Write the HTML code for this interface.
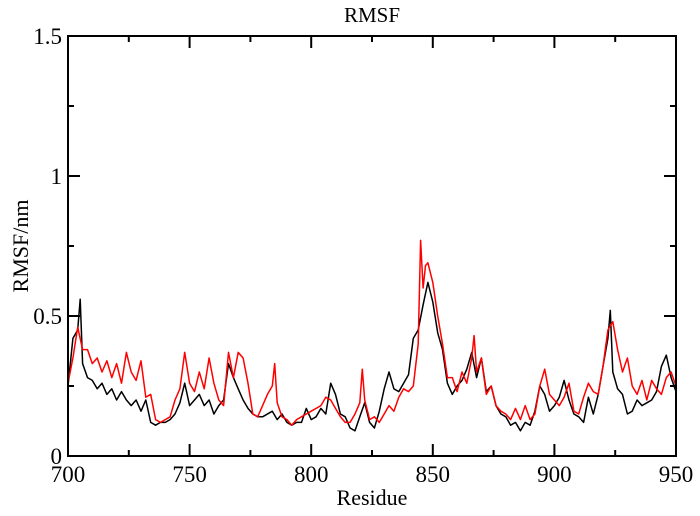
<!DOCTYPE html>
<html><head><meta charset="utf-8"><style>
html,body{margin:0;padding:0;background:#fff;}
svg{display:block;font-family:"Liberation Serif",serif;}
</style></head><body>
<svg id="chart" width="700" height="516" viewBox="0 0 700 516"></svg>
<script>
const blackRes=[700,702,704,705,706,708,710,712,714,716,718,720,722,724,726,728,730,732,734,736,738,740,742,744,746,748,750,752,754,756,758,760,762,764,766,768,770,772,774,776,778,780,784,786,788,790,792,794,796,798,800,802,804,806,808,810,812,814,816,818,820,822,824,826,828,830,832,834,836,838,840,842,844,846,848,850,852,854,856,858,860,862,864,866,868,870,872,874,876,878,880,882,884,886,888,890,892,894,896,898,900,902,904,906,908,910,912,914,916,918,920,922,923,924,926,928,930,932,934,936,938,940,942,944,946,948,950];
const blackVal=[0.25,0.42,0.45,0.56,0.33,0.28,0.27,0.24,0.26,0.22,0.24,0.20,0.23,0.20,0.18,0.20,0.16,0.20,0.12,0.11,0.12,0.12,0.13,0.15,0.19,0.26,0.18,0.20,0.22,0.18,0.20,0.15,0.18,0.20,0.33,0.28,0.24,0.20,0.17,0.15,0.14,0.14,0.16,0.13,0.15,0.12,0.11,0.12,0.12,0.17,0.13,0.14,0.17,0.15,0.26,0.22,0.15,0.14,0.10,0.09,0.14,0.19,0.12,0.10,0.16,0.24,0.30,0.24,0.23,0.26,0.29,0.42,0.45,0.54,0.62,0.55,0.44,0.38,0.26,0.22,0.25,0.27,0.31,0.37,0.28,0.35,0.23,0.25,0.18,0.15,0.14,0.11,0.12,0.09,0.12,0.11,0.16,0.25,0.22,0.16,0.18,0.21,0.27,0.20,0.15,0.14,0.12,0.21,0.15,0.22,0.32,0.42,0.52,0.30,0.24,0.22,0.15,0.16,0.20,0.18,0.19,0.20,0.23,0.32,0.36,0.28,0.23];
const redRes=[700,702,704,706,708,710,712,714,716,718,720,722,724,726,728,730,732,734,736,738,740,742,744,746,748,750,752,754,756,758,760,762,764,766,768,770,772,774,776,778,780,782,784,785,786,788,790,792,794,796,798,800,802,804,806,808,810,812,814,816,818,820,821,822,824,826,828,830,832,834,836,838,840,842,844,845,846,847,848,850,852,854,856,858,860,862,864,866,867,868,870,872,874,876,878,880,882,884,886,888,890,892,894,896,898,900,902,904,906,908,910,912,914,916,918,920,922,924,926,928,930,932,934,936,938,940,942,944,946,948,950];
const redVal=[0.26,0.35,0.46,0.38,0.38,0.33,0.35,0.30,0.34,0.28,0.33,0.26,0.37,0.30,0.27,0.34,0.21,0.22,0.13,0.12,0.13,0.14,0.20,0.24,0.37,0.26,0.23,0.30,0.24,0.35,0.26,0.20,0.18,0.37,0.28,0.37,0.35,0.26,0.15,0.14,0.18,0.22,0.25,0.33,0.19,0.14,0.13,0.11,0.13,0.14,0.15,0.16,0.17,0.18,0.21,0.20,0.17,0.14,0.12,0.12,0.15,0.19,0.31,0.20,0.13,0.14,0.12,0.15,0.18,0.16,0.21,0.24,0.23,0.25,0.40,0.77,0.60,0.68,0.69,0.62,0.50,0.40,0.28,0.28,0.23,0.30,0.26,0.35,0.43,0.30,0.35,0.22,0.25,0.18,0.16,0.15,0.13,0.17,0.13,0.18,0.13,0.15,0.25,0.31,0.22,0.20,0.18,0.21,0.26,0.16,0.15,0.21,0.26,0.23,0.22,0.32,0.45,0.48,0.38,0.30,0.35,0.25,0.22,0.27,0.20,0.27,0.24,0.22,0.28,0.30,0.25];
const xTicks=[700,750,800,850,900,950];
const xTickLabels=["700","750","800","850","900","950"];
const yTicks=[0,0.5,1,1.5];
const yTickLabels=["0","0.5","1","1.5"];

const X0=68,X1=676,Y0=456,Y1=36;
const xs=r=>X0+(r-700)/(950-700)*(X1-X0);
const ys=v=>Y0-(v/1.5)*(Y0-Y1);
const NS="http://www.w3.org/2000/svg";
const svg=document.getElementById('chart');
function mk(t,a){const e=document.createElementNS(NS,t);for(const k in a)e.setAttribute(k,a[k]);svg.appendChild(e);return e;}

function series(res,val,color,name){
  const p=mk('polyline',{points:res.map((r,i)=>xs(r).toFixed(1)+','+ys(val[i]).toFixed(1)).join(' '),fill:'none',stroke:color,'stroke-width':1.5,'stroke-linejoin':'round'});
  
  
}
series(blackRes,blackVal,'#000','series-black');
series(redRes,redVal,'#ff0000','series-red');

const frame=mk('rect',{x:X0,y:Y1,width:X1-X0,height:Y0-Y1,fill:'none',stroke:'#000','stroke-width':2});



xTicks.forEach((t,i)=>{
  const x=xs(t);
  mk('line',{x1:x,y1:Y0,x2:x,y2:Y0-12,stroke:'#000','stroke-width':2});
  mk('line',{x1:x,y1:Y1,x2:x,y2:Y1+12,stroke:'#000','stroke-width':2});
  if(i<xTicks.length-1){const m=xs(t+25);
    mk('line',{x1:m,y1:Y0,x2:m,y2:Y0-6,stroke:'#000','stroke-width':2});
    mk('line',{x1:m,y1:Y1,x2:m,y2:Y1+6,stroke:'#000','stroke-width':2});}
  const tx=mk('text',{x:x,y:Y0+26,'text-anchor':'middle','font-size':23});
  tx.textContent=xTickLabels[i];
  
  
});
yTicks.forEach((t,i)=>{
  const y=ys(t);
  mk('line',{x1:X0,y1:y,x2:X0+12,y2:y,stroke:'#000','stroke-width':2});
  mk('line',{x1:X1,y1:y,x2:X1-12,y2:y,stroke:'#000','stroke-width':2});
  if(i<yTicks.length-1){const m=ys(t+0.25);
    mk('line',{x1:X0,y1:m,x2:X0+6,y2:m,stroke:'#000','stroke-width':2});
    mk('line',{x1:X1,y1:m,x2:X1-6,y2:m,stroke:'#000','stroke-width':2});}
  const tx=mk('text',{x:X0-6,y:y+8,'text-anchor':'end','font-size':23});
  tx.textContent=yTickLabels[i];
  
  
});
const title=mk('text',{x:372,y:22,'text-anchor':'middle','font-size':21});
title.textContent='RMSF';


const xl=mk('text',{x:372,y:505,'text-anchor':'middle','font-size':22});
xl.textContent='Residue';


const yl=mk('text',{x:0,y:0,'text-anchor':'middle','font-size':22,transform:'translate(28,246) rotate(-90)'});
yl.textContent='RMSF/nm';


</script>
</body></html>
